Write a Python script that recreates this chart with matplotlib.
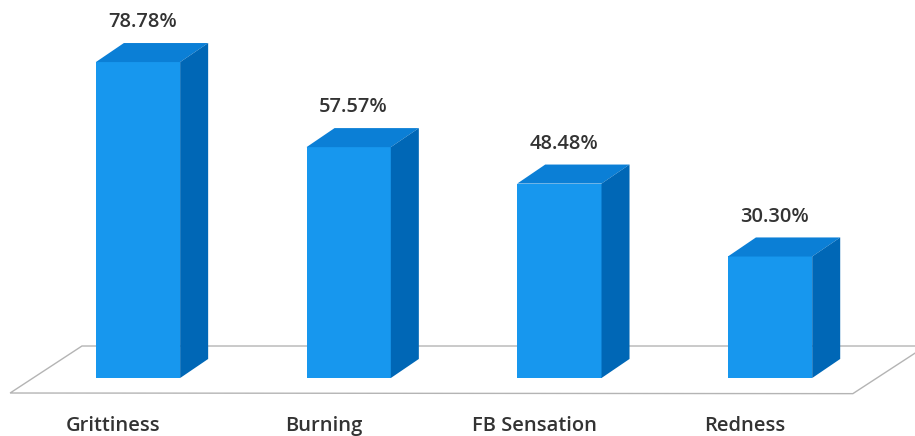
import matplotlib
matplotlib.use("Agg")
import matplotlib.pyplot as plt
from matplotlib.patches import Polygon

# data
categories = ["Grittiness", "Burning", "FB Sensation", "Redness"]
values = [78.78, 57.57, 48.48, 30.30]
value_labels = ["78.78%", "57.57%", "48.48%", "30.30%"]

# look
FRONT = "#1797ee"
TOP = "#0b7fd6"
SIDE = "#0067b6"
TEXT = "#333333"
FONT = "Open Sans"

bar_w = 0.40
depth_x = 0.133   # 3d offset in category units
depth_y = 4.75    # 3d offset in percent units

fig = plt.figure(figsize=(9.15, 4.36), dpi=100)
ax = fig.add_axes([0, 0, 1, 1])
ax.set_xlim(-0.655, 3.688)
ax.set_ylim(-14.46, 94.26)
ax.axis("off")

# floor plane (drawn behind the bars)
floor = Polygon([(-0.607, -3.74), (-0.266, 7.98), (3.74, 7.98), (3.393, -3.9)],
                closed=True, facecolor="white", edgecolor="#b4b4b4", lw=1.0, zorder=1)
ax.add_patch(floor)

xs = list(range(len(categories)))
ax.bar(xs, values, width=bar_w, color=FRONT, zorder=3, linewidth=0)

for x, v, lab, cat in zip(xs, values, value_labels, categories):
    l, r = x - bar_w / 2, x + bar_w / 2
    top = Polygon([(l, v), (l + depth_x, v + depth_y), (r + depth_x, v + depth_y), (r, v)],
                  closed=True, facecolor=TOP, edgecolor="none", zorder=3)
    side = Polygon([(r, 0), (r, v), (r + depth_x, v + depth_y), (r + depth_x, depth_y)],
                   closed=True, facecolor=SIDE, edgecolor="none", zorder=3)
    ax.add_patch(top)
    ax.add_patch(side)
    ax.text(x + 0.02, v + 9.9, lab, ha="center", va="center", fontsize=14.5,
            family=FONT, fontweight="semibold", color=TEXT, zorder=4)
    ax.text(x - 0.118, -12.0, cat, ha="center", va="center", fontsize=14.5,
            family=FONT, fontweight="semibold", color=TEXT, zorder=4)

fig.savefig("out.png", dpi=100)
